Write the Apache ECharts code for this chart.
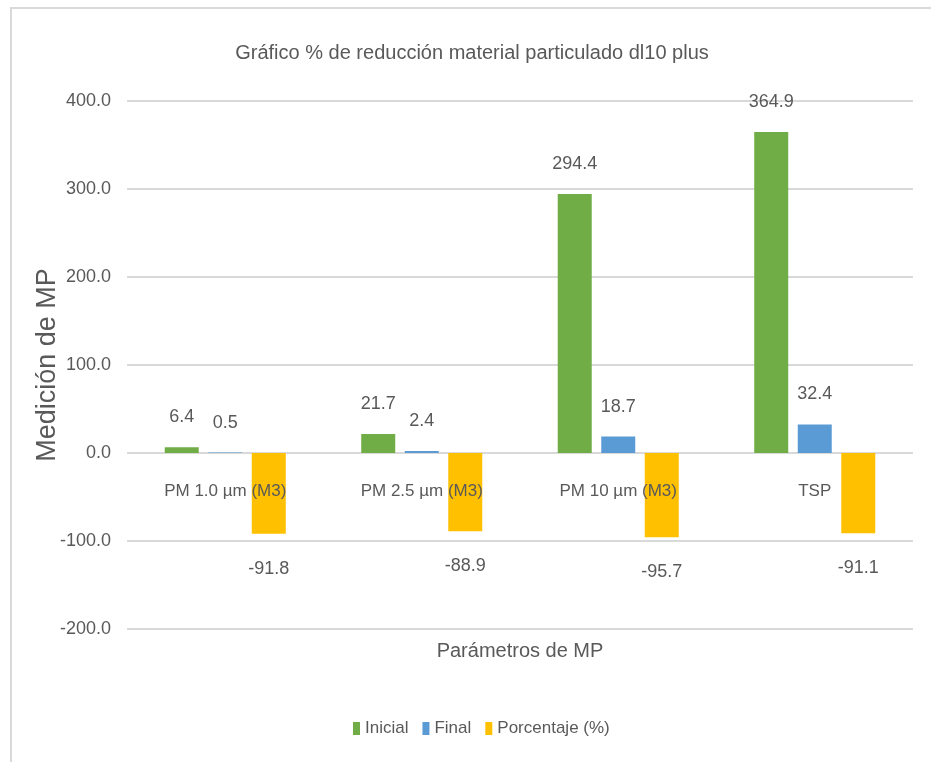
<!DOCTYPE html>
<html>
<head>
<meta charset="utf-8">
<script src="https://cdn.jsdelivr.net/npm/echarts@6/dist/echarts.min.js"></script>
<style>
	html, body { margin: 0; padding: 0; background: #fff; }
	#main { width: 931px; height: 762px; }
</style>
</head>
<body>
<div id="main"></div>
<script>
const categories = ['PM 1.0 µm (M3)', 'PM 2.5 µm (M3)', 'PM 10 µm (M3)', 'TSP'];
const inicial = [6.4, 21.7, 294.4, 364.9];
const final = [0.5, 2.4, 18.7, 32.4];
const porcentaje = [-91.8, -88.9, -95.7, -91.1];

const FONT = "'Liberation Sans', sans-serif";
const TEXT = '#595959';

const chart = echarts.init(document.getElementById('main'));

function barSeries(name, data, color, pos, dist) {
	return {
		name: name,
		type: 'bar',
		data: data,
		barWidth: 34,
		barGap: '28%',
		itemStyle: { color: color },
		label: {
			show: true,
			position: pos,
			distance: dist,
			color: TEXT,
			fontFamily: FONT,
			fontSize: 18,
			formatter: p => p.value.toFixed(1)
		}
	};
}

chart.setOption({
	animation: false,
	title: {
		text: 'Gráfico % de reducción material particulado dl10 plus',
		left: 467,
		textAlign: 'center',
		top: 38,
		textStyle: { color: TEXT, fontFamily: FONT, fontSize: 20, fontWeight: 'normal' }
	},
	graphic: [{
		type: 'rect',
		shape: { x: 11, y: 8, width: 940, height: 800 },
		style: { fill: 'none', stroke: '#d9d9d9', lineWidth: 2 },
		silent: true
	}],
	legend: {
		bottom: 20,
		left: 348,
		itemWidth: 7,
		itemHeight: 13,
		itemGap: 14,
		icon: 'rect',
		textStyle: { color: TEXT, fontFamily: FONT, fontSize: 17 },
		data: ['Inicial', 'Final', 'Porcentaje (%)']
	},
	grid: {
		left: 127,
		right: 18,
		top: 101,
		bottom: 133,
		outerBoundsMode: 'none'
	},
	xAxis: {
		type: 'category',
		data: categories,
		z: 10,
		axisLine: { show: false, onZero: false },
		axisTick: { show: false },
		// labels sit just under the zero line, over the bars
		axisLabel: { interval: 0, margin: -146, color: TEXT, fontFamily: FONT, fontSize: 17 },
		name: 'Parámetros de MP',
		nameLocation: 'middle',
		nameGap: 12,
		nameTextStyle: { color: TEXT, fontFamily: FONT, fontSize: 20 }
	},
	yAxis: {
		type: 'value',
		min: -200,
		max: 400,
		interval: 100,
		axisLine: { show: false },
		axisTick: { show: false },
		splitLine: { lineStyle: { color: '#d9d9d9', width: 2 } },
		axisLabel: {
			margin: 16,
			color: TEXT,
			fontFamily: FONT,
			fontSize: 18,
			formatter: v => v.toFixed(1)
		},
		name: 'Medición de MP',
		nameLocation: 'middle',
		nameGap: 66,
		nameMoveOverlap: false,
		nameTextStyle: { color: TEXT, fontFamily: FONT, fontSize: 27 }
	},
	series: [
		barSeries('Inicial', inicial, '#70ad47', 'top', 21),
		barSeries('Final', final, '#5b9bd5', 'top', 21),
		barSeries('Porcentaje (%)', porcentaje, '#ffc000', 'bottom', 26)
	]
});
</script>
</body>
</html>
